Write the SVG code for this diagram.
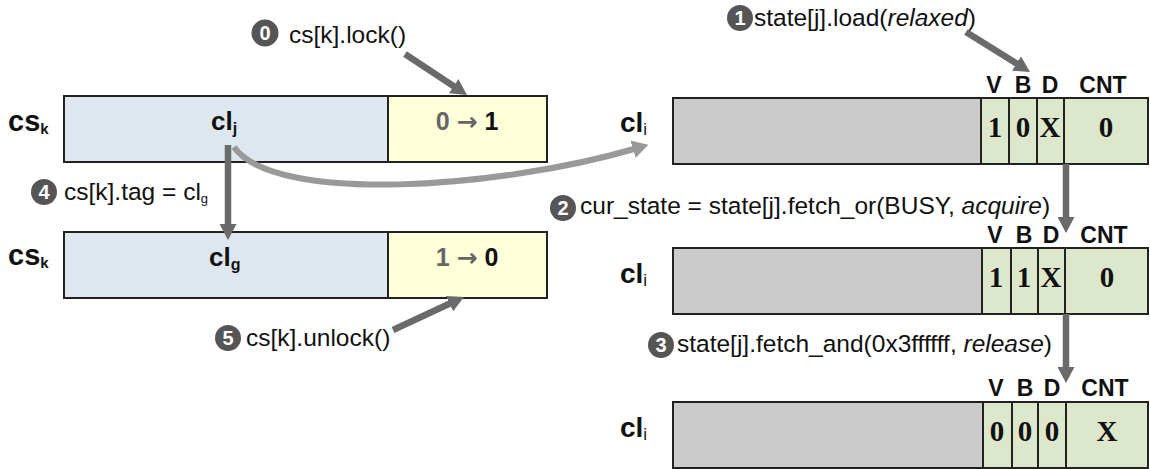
<svg xmlns="http://www.w3.org/2000/svg" width="1150" height="469" viewBox="0 0 1150 469">
<style>
.lbl{font-family:"Liberation Sans",Arial,sans-serif;font-size:24.5px;fill:#111}
.big{font-family:"Liberation Sans",Arial,sans-serif;font-weight:bold;fill:#111}
.arr{font-family:"DejaVu Sans",sans-serif;font-weight:bold}
.hdr{font-family:"Liberation Sans",Arial,sans-serif;font-weight:bold;font-size:23px;fill:#111;text-anchor:middle}
.val{font-family:"Liberation Serif","Times New Roman",serif;font-weight:bold;font-size:29px;fill:#111;text-anchor:middle}
.num{font-family:"Liberation Sans",Arial,sans-serif;font-weight:bold;font-size:20px;fill:#fff;text-anchor:middle}
.badge{fill:#555}
.box{stroke:#222;stroke-width:2}
.blue{fill:#dee6ef}.yel{fill:#ffffd9}.gray{fill:#cbcbcb}.grn{fill:#dde7cb}
.dark{stroke:#6a6a6a;stroke-width:6.5;fill:none}
.light{stroke:#999;stroke-width:6;fill:none}
.cell{stroke:#222;stroke-width:2}
</style>
<defs>
<marker id="ahd" markerUnits="userSpaceOnUse" markerWidth="16" markerHeight="17" viewBox="0 0 16 17" refX="1" refY="8.5" orient="auto"><path d="M0,0 L16,8.5 L0,17 z" fill="#6a6a6a"/></marker>
<marker id="ahl" markerUnits="userSpaceOnUse" markerWidth="16" markerHeight="18" viewBox="0 0 16 18" refX="1" refY="9" orient="auto"><path d="M0,0 L16,9 L0,18 z" fill="#999"/></marker>
</defs>

<g id="cs-k-top">
<text class="big" x="8" y="131" font-size="29">cs<tspan font-size="15" dy="3">k</tspan></text>
<rect class="box blue" x="64" y="96" width="324" height="66"/>
<rect class="box yel" x="388" y="96" width="159" height="66"/>
<text class="big" x="211" y="130" font-size="26">cl<tspan font-size="16" dy="4">j</tspan></text>
<text class="big" x="467" y="130" font-size="25" text-anchor="middle"><tspan fill="#666">0 <tspan class="arr">→</tspan> </tspan>1</text>
</g>

<g id="cs-k-bottom">
<text class="big" x="8" y="265" font-size="29">cs<tspan font-size="15" dy="3">k</tspan></text>
<rect class="box blue" x="64" y="232" width="324" height="66"/>
<rect class="box yel" x="388" y="232" width="159" height="66"/>
<text class="big" x="209" y="266" font-size="26">cl<tspan font-size="16" dy="4">g</tspan></text>
<text class="big" x="467" y="266" font-size="25" text-anchor="middle"><tspan fill="#666">1 <tspan class="arr">→</tspan> </tspan>0</text>
</g>

<g id="cl-i-1">
<text class="big" x="620" y="132" font-size="28">cl<tspan font-size="17" font-weight="normal" dy="3">i</tspan></text>
<rect class="box gray" x="673" y="98" width="475" height="66"/>
<rect class="cell grn" x="981" y="98" width="28" height="66"/>
<rect class="cell grn" x="1009" y="98" width="28" height="66"/>
<rect class="cell grn" x="1037" y="98" width="27" height="66"/>
<rect class="cell grn" x="1064" y="98" width="84" height="66"/>
<text class="hdr" x="994" y="93">V</text><text class="hdr" x="1023" y="93">B</text><text class="hdr" x="1050" y="93">D</text><text class="hdr" x="1103" y="93">CNT</text>
<text class="val" x="995" y="137">1</text><text class="val" x="1023" y="137">0</text><text class="val" x="1050" y="137">X</text><text class="val" x="1106" y="137">0</text>
</g>

<g id="cl-i-2">
<text class="big" x="620" y="283" font-size="28">cl<tspan font-size="17" font-weight="normal" dy="3">i</tspan></text>
<rect class="box gray" x="673" y="248" width="475" height="66"/>
<rect class="cell grn" x="982" y="248" width="29" height="66"/>
<rect class="cell grn" x="1011" y="248" width="27" height="66"/>
<rect class="cell grn" x="1038" y="248" width="27" height="66"/>
<rect class="cell grn" x="1065" y="248" width="83" height="66"/>
<text class="hdr" x="995" y="243">V</text><text class="hdr" x="1024" y="243">B</text><text class="hdr" x="1051" y="243">D</text><text class="hdr" x="1104" y="243">CNT</text>
<text class="val" x="996" y="287">1</text><text class="val" x="1024" y="287">1</text><text class="val" x="1051" y="287">X</text><text class="val" x="1107" y="287">0</text>
</g>

<g id="cl-i-3">
<text class="big" x="620" y="437" font-size="28">cl<tspan font-size="17" font-weight="normal" dy="3">i</tspan></text>
<rect class="box gray" x="673" y="402" width="475" height="66"/>
<rect class="cell grn" x="983" y="402" width="29" height="66"/>
<rect class="cell grn" x="1012" y="402" width="26" height="66"/>
<rect class="cell grn" x="1038" y="402" width="28" height="66"/>
<rect class="cell grn" x="1066" y="402" width="82" height="66"/>
<text class="hdr" x="996" y="396">V</text><text class="hdr" x="1025" y="396">B</text><text class="hdr" x="1052" y="396">D</text><text class="hdr" x="1105" y="396">CNT</text>
<text class="val" x="997" y="441">0</text><text class="val" x="1025" y="441">0</text><text class="val" x="1052" y="441">0</text><text class="val" x="1107" y="441">X</text>
</g>

<g id="step0">
<circle class="badge" cx="265" cy="33" r="13.5"/><text class="num" x="265" y="40">0</text>
<text class="lbl" x="289" y="43">cs[k].lock()</text>
</g>
<g id="step1">
<circle class="badge" cx="740" cy="18" r="13"/><text class="num" x="740" y="25">1</text>
<text class="lbl" x="754" y="26">state[j].load(<tspan font-style="italic">relaxed</tspan>)</text>
</g>
<g id="step2">
<circle class="badge" cx="563" cy="208" r="13"/><text class="num" x="563" y="215">2</text>
<text class="lbl" x="580" y="214">cur_state = state[j].fetch_or(BUSY, <tspan font-style="italic">acquire</tspan>)</text>
</g>
<g id="step3">
<circle class="badge" cx="661" cy="345" r="13"/><text class="num" x="661" y="352">3</text>
<text class="lbl" x="677" y="352">state[j].fetch_and(0x3ffffff, <tspan font-style="italic">release</tspan>)</text>
</g>
<g id="step4">
<circle class="badge" cx="44" cy="192" r="13"/><text class="num" x="44" y="199">4</text>
<text class="lbl" x="64" y="200">cs[k].tag = cl<tspan font-size="13" dy="3">g</tspan></text>
</g>
<g id="step5">
<circle class="badge" cx="228" cy="338" r="13"/><text class="num" x="228" y="345">5</text>
<text class="lbl" x="246" y="346">cs[k].unlock()</text>
</g>

<g id="connectors">
<path class="light" d="M234,147 C275,205 500,188 634,149" marker-end="url(#ahl)"/>
<line class="dark" x1="405" y1="54" x2="454.5" y2="86.7" marker-end="url(#ahd)"/>
<line class="dark" x1="966" y1="32" x2="1017.3" y2="64" marker-end="url(#ahd)"/>
<line class="dark" x1="228" y1="145" x2="228" y2="225" marker-end="url(#ahd)"/>
<line class="dark" x1="1066" y1="164" x2="1066" y2="218" marker-end="url(#ahd)"/>
<line class="dark" x1="1066" y1="314" x2="1066" y2="368" marker-end="url(#ahd)"/>
<line class="dark" x1="393" y1="330" x2="450.4" y2="303.3" marker-end="url(#ahd)"/>
</g>
</svg>
